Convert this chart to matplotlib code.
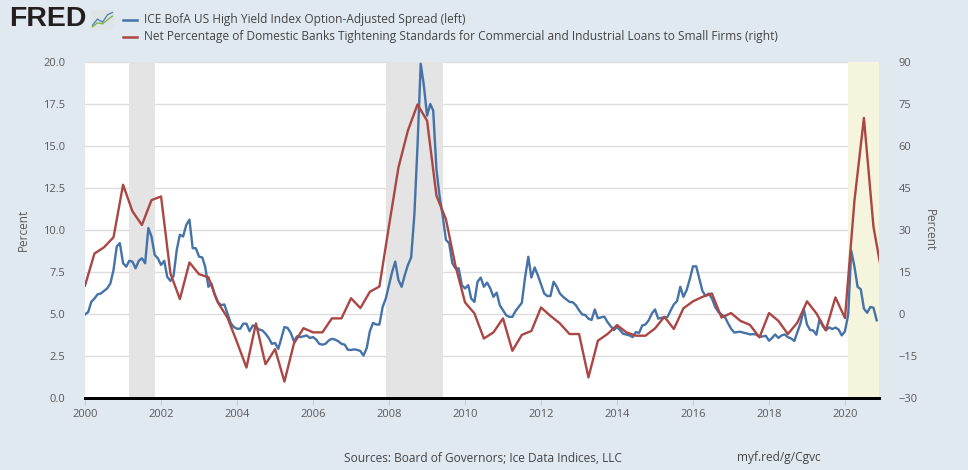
import numpy as np
import pandas as pd
import matplotlib
matplotlib.use('Agg')
import matplotlib.pyplot as plt
import matplotlib.dates as mdates
from matplotlib.lines import Line2D

plt.rcParams['font.family'] = ['Open Sans', 'DejaVu Sans']

# ── Data ──────────────────────────────────────────────────────────────────
# ICE BofA US High Yield OAS, monthly, Jan 2000 - Nov 2020 (left axis, %)
hy_spread = [
    4.95, 5.1, 5.7, 5.9, 6.15, 6.2, 6.35, 6.5, 6.8, 7.6, 9.0, 9.2,          # 2000
    8.0, 7.8, 8.15, 8.1, 7.7, 8.15, 8.3, 8.0, 10.1, 9.6, 8.5, 8.3,         # 2001
    7.9, 8.15, 7.2, 6.95, 7.25, 8.8, 9.7, 9.6, 10.3, 10.6, 8.9, 8.9,       # 2002
    8.4, 8.35, 7.8, 6.6, 6.8, 6.1, 5.7, 5.5, 5.55, 5.0, 4.45, 4.2,         # 2003
    4.1, 4.1, 4.4, 4.4, 3.95, 4.3, 4.2, 4.05, 4.0, 3.8, 3.55, 3.2,         # 2004
    3.25, 2.9, 3.5, 4.2, 4.15, 3.85, 3.35, 3.65, 3.6, 3.65, 3.7, 3.55,     # 2005
    3.6, 3.45, 3.2, 3.15, 3.2, 3.4, 3.5, 3.45, 3.35, 3.2, 3.15, 2.85,      # 2006
    2.83, 2.87, 2.84, 2.77, 2.5, 2.95, 3.95, 4.45, 4.35, 4.35, 5.4, 5.9,   # 2007
    6.7, 7.5, 8.1, 7.0, 6.6, 7.3, 7.9, 8.35, 10.9, 15.0, 19.9, 18.6,       # 2008
    16.8, 17.5, 17.1, 13.6, 12.0, 10.8, 9.4, 9.2, 8.0, 7.7, 7.7, 6.7,      # 2009
    6.5, 6.7, 5.9, 5.7, 6.9, 7.15, 6.6, 6.85, 6.5, 6.0, 6.25, 5.5,         # 2010
    5.2, 4.9, 4.81, 4.81, 5.15, 5.4, 5.65, 7.16, 8.39, 7.15, 7.75, 7.3,    # 2011
    6.75, 6.2, 6.05, 6.05, 6.9, 6.6, 6.2, 6.0, 5.85, 5.7, 5.68, 5.5,       # 2012
    5.2, 4.95, 4.92, 4.7, 4.62, 5.25, 4.72, 4.78, 4.82, 4.5, 4.25, 4.02,   # 2013
    4.2, 4.0, 3.8, 3.75, 3.7, 3.6, 3.9, 3.85, 4.3, 4.35, 4.6, 5.0,         # 2014
    5.25, 4.7, 4.75, 4.75, 4.8, 5.2, 5.55, 5.75, 6.6, 6.0, 6.4, 7.05,      # 2015
    7.82, 7.82, 7.1, 6.35, 6.05, 6.2, 5.9, 5.4, 5.1, 4.95, 4.82, 4.45,     # 2016
    4.1, 3.87, 3.9, 3.92, 3.86, 3.82, 3.76, 3.78, 3.75, 3.62, 3.64, 3.68,  # 2017
    3.38, 3.56, 3.76, 3.55, 3.7, 3.76, 3.6, 3.52, 3.37, 3.9, 4.45, 5.27,   # 2018
    4.35, 4.02, 4.0, 3.74, 4.65, 4.25, 4.0, 4.18, 4.08, 4.17, 4.05, 3.7,   # 2019
    3.95, 4.95, 8.75, 7.8, 6.6, 6.45, 5.3, 5.05, 5.4, 5.35, 4.6,           # 2020
]
hy_dates = pd.date_range('2000-01-01', periods=len(hy_spread), freq='MS')

# Net % of banks tightening C&I standards for small firms, quarterly (right axis)
tightening = [
    10.0, 21.5, 23.7, 27.3,      # 2000
    46.1, 36.6, 31.7, 40.6,      # 2001
    41.9, 14.4, 5.2, 18.3,       # 2002
    14.1, 13.0, 4.0, -1.4,       # 2003
    -10.2, -19.3, -3.5, -18.1,   # 2004
    -12.7, -24.3, -10.7, -5.2,   # 2005
    -6.7, -6.7, -1.7, -1.7,      # 2006
    5.5, 2.0, 7.8, 9.7,          # 2007
    31.4, 52.3, 65.5, 74.8,      # 2008
    69.0, 42.2, 33.8, 17.1,      # 2009
    4.0, 0.1, -8.9, -6.7,        # 2010
    -1.7, -13.3, -7.6, -6.2,     # 2011
    2.2, -0.8, -3.5, -7.3,       # 2012
    -7.3, -22.8, -9.7, -7.3,     # 2013
    -4.1, -6.7, -7.9, -7.9,      # 2014
    -5.3, -1.1, -5.5, 1.9,       # 2015
    4.4, 6.0, 7.2, -1.4,         # 2016
    0.2, -2.6, -4.0, -8.5,       # 2017
    0.2, -2.6, -7.3, -3.2,       # 2018
    4.4, 0.1, -5.9, 5.8,         # 2019
    -1.6, 40.4, 70.0, 31.0,      # 2020
    12.0,                        # 2021
]
tight_dates = pd.date_range('2000-01-01', periods=len(tightening), freq='QS')

# NBER recessions (grey) and the then-undated 2020 one (yellow)
recessions = [('2001-03-01', '2001-11-01'), ('2007-12-01', '2009-06-01')]
recession_open = ('2020-02-01', '2020-11-23')

x_start, x_end = pd.Timestamp('2000-01-01'), pd.Timestamp('2020-11-23')

BG = '#e1e9f0'
BLUE = '#4572a7'
RED = '#aa4643'
TXT = '#595959'

fig = plt.figure(figsize=(9.68, 4.70), dpi=100, facecolor=BG)
ax = fig.add_axes([85 / 968, 1 - 397.5 / 470, 794 / 968, 335.5 / 470])
ax.set_facecolor('white')

for a, b in recessions:
    ax.axvspan(pd.Timestamp(a), pd.Timestamp(b), color='#e4e4e4', lw=0, zorder=1)
ax.axvspan(pd.Timestamp(recession_open[0]), pd.Timestamp(recession_open[1]),
           color='#f5f4dc', lw=0, zorder=1)

ax.plot(hy_dates, hy_spread, color=BLUE, lw=1.7, zorder=3, solid_joinstyle='round')
ax.set_ylim(0, 20)
ax.set_yticks(np.arange(0, 20.01, 2.5))
ax.set_yticklabels([f'{v:.1f}' for v in np.arange(0, 20.01, 2.5)])
ax.set_xlim(x_start, x_end)
ax.grid(axis='y', color='#dddddd', lw=1, zorder=0)
ax.set_axisbelow(True)

ax2 = ax.twinx()
ax2.plot(tight_dates, tightening, color=RED, lw=1.7, zorder=3, solid_joinstyle='round')
ax2.set_ylim(-30, 90)
ax2.set_yticks(np.arange(-30, 91, 15))
ax2.set_xlim(x_start, x_end)

for a in (ax, ax2):
    for s in ('top', 'left', 'right'):
        a.spines[s].set_visible(False)
    a.spines['bottom'].set_color('black')
    a.spines['bottom'].set_linewidth(2)
    a.tick_params(axis='y', length=0, labelsize=8, labelcolor=TXT)

ax.tick_params(axis='y', pad=14)
ax2.tick_params(axis='y', pad=14)
ax.xaxis.set_major_locator(mdates.YearLocator(2))
ax.xaxis.set_major_formatter(mdates.DateFormatter('%Y'))
ax.tick_params(axis='x', length=5, color='#cccccc', labelsize=8, labelcolor=TXT, pad=3)

ax.set_ylabel('Percent', fontsize=8.5, color=TXT, labelpad=10)
ax2.set_ylabel('Percent', fontsize=8.5, color=TXT, rotation=270, labelpad=13)

# ── Header: FRED logo and legend ──────────────────────────────────────────
fig.text(9 / 968, 1 - 19 / 470, 'FRED', fontsize=20.5, fontweight='bold',
         family=['Liberation Sans', 'DejaVu Sans'], color='#231f20', va='center')
icon = fig.add_axes([91 / 968, 1 - 30 / 470, 23 / 968, 20 / 470])
icon.set_facecolor('#dfe4e6')
icon.plot([0, 1, 2, 3, 4], [0.5, 1.5, 1.0, 2.2, 2.6], color='#4a7ab5', lw=0.9)
icon.plot([0, 1, 2, 3, 4], [0.2, 0.9, 0.7, 1.4, 2.0], color='#7cb342', lw=0.9)
icon.set_xlim(-0.3, 4.3)
icon.set_ylim(-0.3, 3)
icon.set_xticks([])
icon.set_yticks([])
for s in icon.spines.values():
    s.set_visible(False)

legend_items = [
    (BLUE, 'ICE BofA US High Yield Index Option-Adjusted Spread (left)', 19.5),
    (RED, 'Net Percentage of Domestic Banks Tightening Standards for Commercial '
          'and Industrial Loans to Small Firms (right)', 36.5),
]
for color, label, ypx in legend_items:
    yy = 1 - ypx / 470
    fig.add_artist(Line2D([123 / 968, 137 / 968], [yy, yy], color=color, lw=1.8))
    fig.text(144 / 968, yy, label, fontsize=8.6, color='#444444', va='center')

fig.text(344 / 968, 1 - 458 / 470, 'Sources: Board of Governors; Ice Data Indices, LLC',
         fontsize=8.6, color='#444444', va='center')
fig.text(737 / 968, 1 - 458 / 470, 'myf.red/g/Cgvc', fontsize=8.6, color='#444444',
         va='center')

fig.savefig('out.png', dpi=100, facecolor=BG)
